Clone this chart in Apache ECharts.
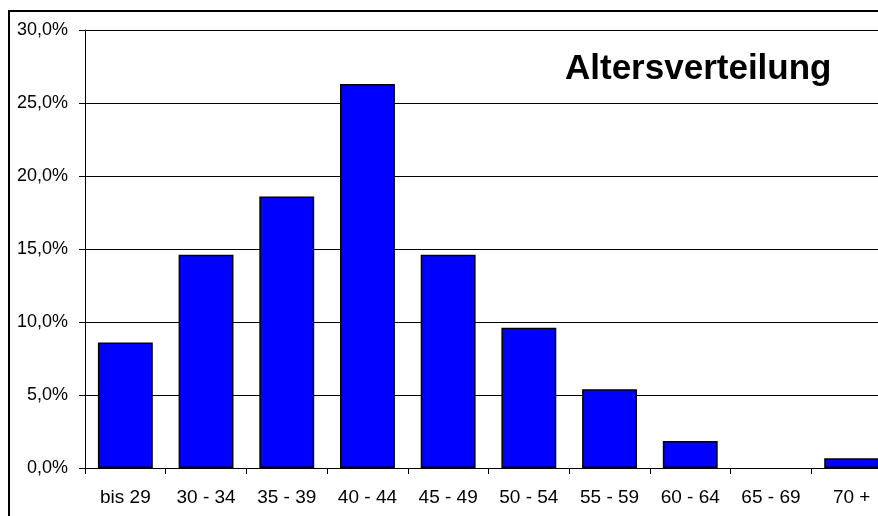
<!DOCTYPE html>
<html><head><meta charset="utf-8">
<script src="https://cdn.jsdelivr.net/npm/echarts@6/dist/echarts.min.js"></script>
<style>html,body{margin:0;padding:0;background:#fff}#c{width:878px;height:516px}</style>
</head><body><div id="c"></div>
<script>
const categories = ['bis 29','30 - 34','35 - 39','40 - 44','45 - 49','50 - 54','55 - 59','60 - 64','65 - 69','70 +'];
const shares = [8.6, 14.6, 18.6, 26.3, 14.6, 9.6, 5.4, 1.85, 0, 0.66];
const title = 'Altersverteilung';
const fontFam = 'Liberation Sans, Arial, sans-serif';
const chart = echarts.init(document.getElementById('c'), null, {renderer:'canvas'});
chart.setOption({
  animation:false,
  backgroundColor:'#fff',
  graphic:[{type:'rect', shape:{x:9,y:11,width:900,height:600}, style:{fill:'none', stroke:'#000', lineWidth:2}, z:-1}],
  title:{text:title, left:565, top:52, padding:0, textStyle:{fontFamily:fontFam, fontWeight:'bold', fontSize:35, color:'#000'}},
  grid:{left:85, top:30, width:807, height:438, containLabel:false, outerBoundsMode:'none'},
  xAxis:{type:'category', data:categories,
    axisLine:{lineStyle:{color:'#000', width:1}},
    axisTick:{show:true, length:6, lineStyle:{color:'#000'}},
    axisLabel:{color:'#000', fontFamily:fontFam, fontSize:19, margin:20}},
  yAxis:{type:'value', min:0, max:30, interval:5,
    axisLine:{show:true, lineStyle:{color:'#000', width:1}},
    axisTick:{show:true, length:6, lineStyle:{color:'#000'}},
    axisLabel:{color:'#000', fontFamily:fontFam, fontSize:18, margin:17,
      formatter:v=>v.toFixed(1).replace('.',',')+'%'},
    splitLine:{show:true, lineStyle:{color:'#000', width:1}}},
  series:[{type:'bar', data:shares.map(v => v === 0 ? null : v), barCategoryGap:'32%',
    itemStyle:{color:'#0000FF', borderColor:'#000', borderWidth:1.5}}]
});
</script></body></html>
